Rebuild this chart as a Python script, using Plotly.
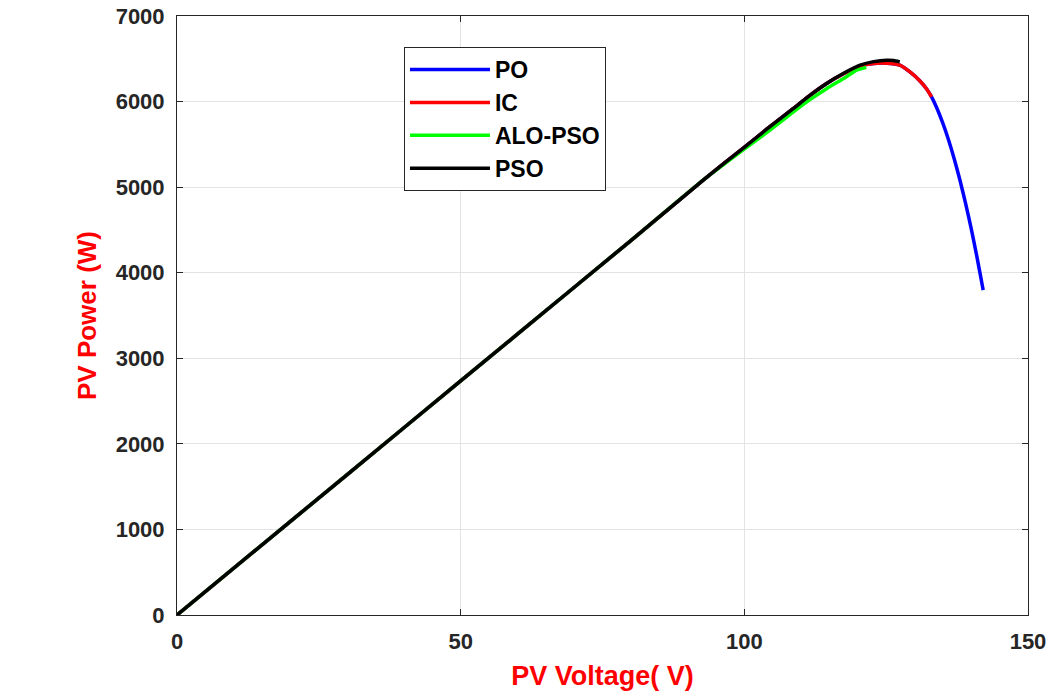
import plotly.graph_objects as go

# ---- data ----
pso_v = [0, 20, 40, 60, 80, 92.8, 100.1, 104, 108.6, 111.5, 114.5, 117.5, 120.4, 122.8, 125.1, 126.3, 127.4]
pso_p = [0, 1094, 2188, 3282, 4376, 5085, 5471, 5680, 5917, 6070, 6211, 6330, 6425, 6467, 6484, 6480, 6464]

ic_v = [0, 20, 40, 60, 80, 92.8, 100.1, 104, 108.6, 111.5, 114.5, 117.5, 120.4, 122.8, 125.1, 127.4, 129.3, 131.0, 132.1, 133.0]
ic_p = [0, 1094, 2188, 3282, 4376, 5085, 5471, 5680, 5917, 6070, 6211, 6325, 6415, 6445, 6448, 6425, 6340, 6238, 6150, 6055]

po_v = [0, 20, 40, 60, 80, 92.8, 100.1, 104, 108.6, 111.5, 114.5, 117.5, 120.4, 122.8, 125.1, 127.4, 129.3, 131.0, 132.1, 133.0,
        134.0, 135.0, 136.0, 137.0, 138.0, 139.0, 140.0, 141.0, 142.0, 142.1]
po_p = [0, 1094, 2188, 3282, 4376, 5085, 5471, 5680, 5917, 6070, 6211, 6325, 6415, 6445, 6448, 6425, 6340, 6238, 6150, 6055,
        5913, 5745, 5551, 5330, 5084, 4810, 4511, 4185, 3833, 3797]

alo_v = [0, 20, 40, 60, 80, 92.8, 100.1, 104, 108.6, 111.5, 114.5, 117.5, 119.8, 121.5]
alo_p = [0, 1094, 2188, 3282, 4376, 5085, 5450, 5640, 5877, 6020, 6151, 6270, 6367, 6400]

x_ticks = [0, 50, 100, 150]
y_ticks = [0, 1000, 2000, 3000, 4000, 5000, 6000, 7000]

FONT = "Liberation Sans, Arial, sans-serif"
AX = "#262626"

fig = go.Figure()
for name, v, p, c in [("PO", po_v, po_p, "#0000ff"),
                      ("IC", ic_v, ic_p, "#ff0000"),
                      ("ALO-PSO", alo_v, alo_p, "#00ff00"),
                      ("PSO", pso_v, pso_p, "#000000")]:
    fig.add_trace(go.Scatter(x=v, y=p, mode="lines", name=name,
                             line=dict(color=c, width=3.5, shape="spline", smoothing=0.5)))

axis_common = dict(showline=True, linecolor=AX, linewidth=1, mirror="ticks",
                   ticks="inside", ticklen=6, tickcolor=AX,
                   showgrid=True, gridcolor="#e3e3e3", gridwidth=1,
                   zeroline=False, automargin=False, ticklabeloverflow="allow",
                   tickfont=dict(family=FONT, size=22, color=AX, weight="bold"))

fig.update_xaxes(range=[0, 150], tickvals=x_ticks, ticktext=[str(t) for t in x_ticks],
                 ticklabelstandoff=7,
                 title=dict(text="PV Voltage( V)", standoff=12,
                            font=dict(family=FONT, size=27, color="#ff0000", weight="bold")),
                 **axis_common)
fig.update_yaxes(range=[0, 7000], tickvals=y_ticks, ticktext=[str(t) for t in y_ticks],
                 ticklabelstandoff=7,
                 title=dict(text="PV Power (W)", standoff=11,
                            font=dict(family=FONT, size=26, color="#ff0000", weight="bold")),
                 **axis_common)

fig.update_layout(
    width=1052, height=692,
    margin=dict(l=177, r=24, t=16, b=77),
    paper_bgcolor="white", plot_bgcolor="white",
    showlegend=True,
    legend=dict(x=0.2667, y=0.9482, xanchor="left", yanchor="top",
                bgcolor="white", bordercolor=AX, borderwidth=1,
                font=dict(family=FONT, size=23, color="#000000", weight="bold"),
                itemwidth=80, tracegroupgap=0),
)

fig.write_html("out.html", config={"displayModeBar": False},
               post_script="document.body.style.margin='0';")
